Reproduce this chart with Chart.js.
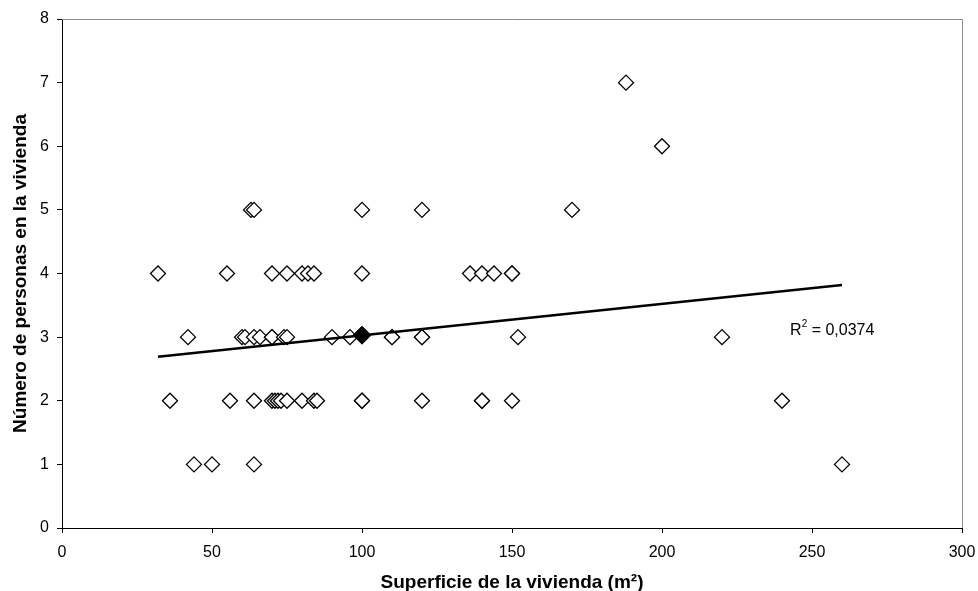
<!DOCTYPE html>
<html>
<head>
<meta charset="utf-8">
<script src="https://cdn.jsdelivr.net/npm/chart.js@4/dist/chart.umd.min.js"></script>
<style>
  html, body { margin: 0; padding: 0; background: #fff; }
  #wrap { width: 978px; height: 591px; }
</style>
</head>
<body>
<div id="wrap"><canvas id="chart" width="978" height="591"></canvas></div>
<script>
// --- DATA ---
// superficie (m²) and personas for each vivienda
const superficie = [
    44, 50, 64, 260,
    36, 56, 64, 70, 71, 72, 73, 75, 80, 84, 85, 100, 100, 120, 140, 140, 150, 240,
    42, 60, 61, 64, 66, 70, 70, 74, 75, 90, 96, 110, 110, 120, 120, 152, 220,
    32, 55, 70, 75, 80, 82, 84, 100, 136, 140, 144, 150, 150,
    63, 64, 100, 120, 170,
    200,
    188
];
const personas = [
    1, 1, 1, 1,
    2, 2, 2, 2, 2, 2, 2, 2, 2, 2, 2, 2, 2, 2, 2, 2, 2, 2,
    3, 3, 3, 3, 3, 3, 3, 3, 3, 3, 3, 3, 3, 3, 3, 3, 3,
    4, 4, 4, 4, 4, 4, 4, 4, 4, 4, 4, 4, 4,
    5, 5, 5, 5, 5,
    6,
    7
];
// mean point (filled diamond)
const mediaX = [100];
const mediaY = [3.03];
// linear trend line end points
const tendenciaX = [32, 260];
const tendenciaY = [2.69, 3.82];
const r2Label = '0,0374';

const xTicks = [0, 50, 100, 150, 200, 250, 300];
const yTicks = [0, 1, 2, 3, 4, 5, 6, 7, 8];

const FONT = '"Liberation Sans", Arial, sans-serif';

// --- PLUGINS ---
// gray frame on top and right of the plot area
const frameLines = {
    id: 'frameLines',
    afterDraw: (chart) => {
        const { ctx, chartArea: a } = chart;
        ctx.save();
        ctx.strokeStyle = '#8c8c8c';
        ctx.lineWidth = 1;
        ctx.beginPath();
        ctx.moveTo(a.left, a.top + 0.5);
        ctx.lineTo(a.right + 0.5, a.top + 0.5);
        ctx.lineTo(a.right + 0.5, a.bottom);
        ctx.stroke();
        ctx.restore();
    }
};

// R² text next to the trend line
const r2Text = {
    id: 'r2Text',
    afterDatasetsDraw: (chart) => {
        const { ctx, scales } = chart;
        const x = scales.x.getPixelForValue(242.7);
        const y = scales.y.getPixelForValue(3.11);
        ctx.save();
        ctx.fillStyle = '#000';
        ctx.textBaseline = 'middle';
        ctx.textAlign = 'left';
        ctx.font = '16px ' + FONT;
        ctx.fillText('R', x, y);
        let w = ctx.measureText('R').width;
        ctx.font = '10px ' + FONT;
        ctx.fillText('2', x + w, y - 6);
        w += ctx.measureText('2').width;
        ctx.font = '16px ' + FONT;
        ctx.fillText(' = ' + r2Label, x + w, y);
        ctx.restore();
    }
};

// --- CHART ---
const puntos = superficie.map((v, i) => ({ x: v, y: personas[i] }));
const media = mediaX.map((v, i) => ({ x: v, y: mediaY[i] }));
const tendencia = tendenciaX.map((v, i) => ({ x: v, y: tendenciaY[i] }));

new Chart(document.getElementById('chart'), {
    type: 'scatter',
    data: {
        datasets: [
            {
                type: 'line',
                label: 'Tendencia',
                data: tendencia,
                borderColor: '#000',
                borderWidth: 2.5,
                pointRadius: 0,
                fill: false,
                tension: 0
            },
            {
                label: 'Media',
                data: media,
                pointStyle: 'rectRot',
                pointRadius: 9,
                backgroundColor: '#000',
                borderColor: '#000',
                borderWidth: 1
            },
            {
                label: 'Viviendas',
                data: puntos,
                pointStyle: 'rectRot',
                pointRadius: 7.5,
                backgroundColor: '#fff',
                borderColor: '#000',
                borderWidth: 1.3
            }
        ]
    },
    options: {
        responsive: false,
        animation: false,
        layout: { padding: { top: 19, right: 16, left: 0, bottom: 0 } },
        plugins: {
            legend: { display: false },
            tooltip: { enabled: false }
        },
        scales: {
            x: {
                type: 'linear',
                min: 0,
                max: 300,
                afterBuildTicks: (s) => { s.ticks = xTicks.map(v => ({ value: v })); },
                afterFit: (s) => { s.height = 63; s.paddingRight = 0; s.paddingLeft = 0; },
                grid: { drawOnChartArea: false, drawTicks: true, tickLength: 5, color: '#000' },
                border: { color: '#000', width: 1 },
                ticks: { color: '#000', font: { family: FONT, size: 16 }, padding: 10, maxRotation: 0 },
                title: {
                    display: true,
                    text: 'Superficie de la vivienda (m²)',
                    color: '#000',
                    font: { family: FONT, size: 19, weight: 'bold' },
                    padding: { top: 0, bottom: -3 }
                }
            },
            y: {
                type: 'linear',
                min: 0,
                max: 8,
                afterBuildTicks: (s) => { s.ticks = yTicks.map(v => ({ value: v })); },
                afterFit: (s) => { s.width = 62; s.paddingTop = 0; s.paddingBottom = 0; },
                grid: { drawOnChartArea: false, drawTicks: true, tickLength: 5, color: '#000' },
                border: { color: '#000', width: 1 },
                ticks: { color: '#000', font: { family: FONT, size: 16 }, padding: 8 },
                title: {
                    display: true,
                    text: 'Número de personas en la vivienda',
                    color: '#000',
                    font: { family: FONT, size: 19, weight: 'bold' },
                    padding: { top: 9, bottom: 0 }
                }
            }
        }
    },
    plugins: [frameLines, r2Text]
});
</script>
</body>
</html>
